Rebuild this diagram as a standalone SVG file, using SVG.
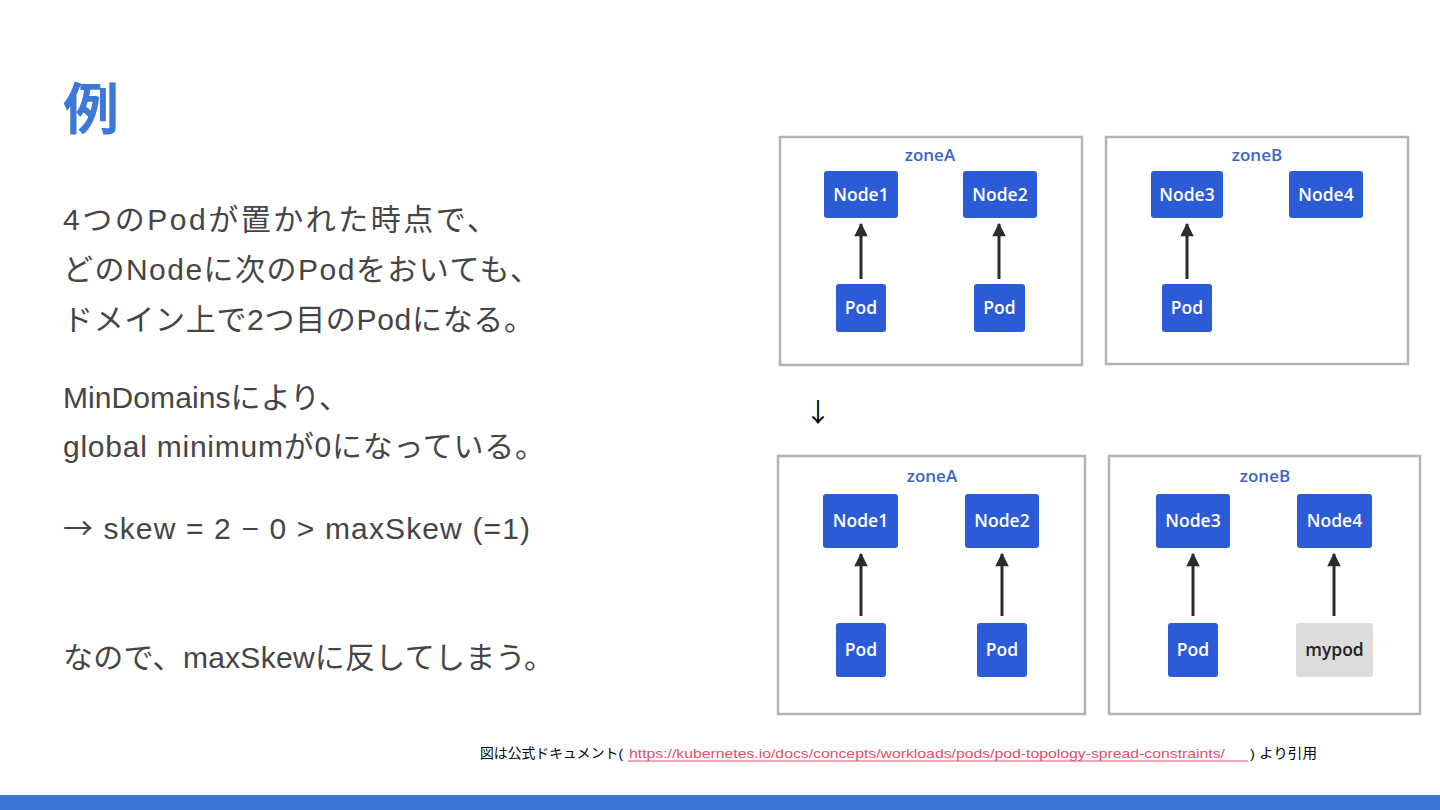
<svg xmlns="http://www.w3.org/2000/svg" width="1440" height="810" viewBox="0 0 1440 810">
<defs>
<marker id="ah" viewBox="0 0 10 10" refX="9" refY="5" markerWidth="5" markerHeight="4.5" orient="auto" markerUnits="strokeWidth">
<path d="M0,0 L10,5 L0,10 Z" fill="#2b2b2b"/>
</marker>
<style>
.body{font-family:"Liberation Sans","Noto Sans CJK JP",sans-serif;font-size:30px;fill:#454545}
.cjk{font-family:"Noto Sans CJK JP",sans-serif}
.zone{fill:#ffffff;stroke:#b3b3b3;stroke-width:2.5}
.zl{font-family:"Open Sans","Noto Sans",sans-serif;font-size:17px;font-weight:600;fill:#3d62c8;text-anchor:middle}
.n{fill:#2c5bd8}
.nt{font-family:"Open Sans","Noto Sans",sans-serif;font-size:17.5px;font-weight:600;fill:#ffffff;text-anchor:middle}
.mp{fill:#dcdcdc}
.mt{font-family:"Open Sans","Noto Sans",sans-serif;font-size:17.5px;font-weight:600;fill:#222222;text-anchor:middle}
.c{stroke:#2b2b2b;stroke-width:3;fill:none;marker-end:url(#ah)}
.cite{font-family:"Liberation Sans","Noto Sans CJK JP",sans-serif;font-size:13.5px;fill:#000000}
.url{fill:#e0506a}
</style>
</defs>
<rect x="0" y="0" width="1440" height="810" fill="#ffffff"/>
<rect x="0" y="795" width="1440" height="15" fill="#3c78d8"/>

<g id="title">
<text x="63" y="129" font-family="Noto Sans CJK JP, sans-serif" font-size="56" font-weight="700" fill="#3c78d8">例</text>
</g>

<g id="body-text">
<text class="body" x="63" y="230" textLength="434" lengthAdjust="spacing">4つのPodが置かれた時点で、</text>
<text class="body" x="63" y="280" textLength="477" lengthAdjust="spacing">どのNodeに次のPodをおいても、</text>
<text class="body" x="63" y="330" textLength="471" lengthAdjust="spacing">ドメイン上で2つ目のPodになる。</text>
<text class="body" x="63" y="408" textLength="286" lengthAdjust="spacing">MinDomainsにより、</text>
<text class="body" x="63" y="457" textLength="482" lengthAdjust="spacing">global minimumが0になっている。</text>
<text class="body" x="63" y="539" textLength="467" lengthAdjust="spacing"><tspan class="cjk">→</tspan> skew = 2 − 0 &gt; maxSkew (=1)</text>
<text class="body" x="63" y="668" textLength="491" lengthAdjust="spacing">なので、maxSkewに反してしまう。</text>
</g>

<g id="top-zoneA">
<rect class="zone" x="780" y="137" width="302" height="228"/>
<text class="zl" x="930" y="161">zoneA</text>
</g>
<g id="top-node1"><rect class="n" x="824" y="171" width="74" height="47" rx="3"/><text class="nt" x="861" y="200.5">Node1</text></g>
<g id="top-node2"><rect class="n" x="963" y="171" width="74" height="47" rx="3"/><text class="nt" x="1000" y="200.5">Node2</text></g>
<g id="top-pod1"><rect class="n" x="836" y="284" width="50" height="48" rx="3"/><text class="nt" x="861" y="314">Pod</text></g>
<g id="top-pod2"><rect class="n" x="974" y="284" width="51" height="48" rx="3"/><text class="nt" x="999.5" y="314">Pod</text></g>

<g id="top-zoneB">
<rect class="zone" x="1106" y="137" width="302" height="227"/>
<text class="zl" x="1257" y="161">zoneB</text>
</g>
<g id="top-node3"><rect class="n" x="1151" y="171" width="72" height="47" rx="3"/><text class="nt" x="1187" y="200.5">Node3</text></g>
<g id="top-node4"><rect class="n" x="1289" y="171" width="74" height="47" rx="3"/><text class="nt" x="1326" y="200.5">Node4</text></g>
<g id="top-pod3"><rect class="n" x="1162" y="284" width="50" height="48" rx="3"/><text class="nt" x="1187" y="314">Pod</text></g>

<g id="down-arrow">
<text x="818" y="422" font-family="Noto Sans CJK JP, sans-serif" font-size="26" fill="#000000" text-anchor="middle">↓</text>
</g>

<g id="bot-zoneA">
<rect class="zone" x="778" y="456" width="307" height="258"/>
<text class="zl" x="932" y="482">zoneA</text>
</g>
<g id="bot-node1"><rect class="n" x="823" y="494" width="75" height="54" rx="3"/><text class="nt" x="860.5" y="527">Node1</text></g>
<g id="bot-node2"><rect class="n" x="965" y="494" width="74" height="54" rx="3"/><text class="nt" x="1002" y="527">Node2</text></g>
<g id="bot-pod1"><rect class="n" x="836" y="623" width="50" height="54" rx="3"/><text class="nt" x="861" y="656">Pod</text></g>
<g id="bot-pod2"><rect class="n" x="977" y="623" width="50" height="54" rx="3"/><text class="nt" x="1002" y="656">Pod</text></g>

<g id="bot-zoneB">
<rect class="zone" x="1109" y="456" width="311" height="258"/>
<text class="zl" x="1265" y="482">zoneB</text>
</g>
<g id="bot-node3"><rect class="n" x="1156" y="494" width="74" height="54" rx="3"/><text class="nt" x="1193" y="527">Node3</text></g>
<g id="bot-node4"><rect class="n" x="1297" y="494" width="75" height="54" rx="3"/><text class="nt" x="1334.5" y="527">Node4</text></g>
<g id="bot-pod3"><rect class="n" x="1168" y="623" width="50" height="54" rx="3"/><text class="nt" x="1193" y="656">Pod</text></g>
<g id="bot-mypod"><rect class="mp" x="1296" y="623" width="77" height="54" rx="3"/><text class="mt" x="1334.5" y="656">mypod</text></g>

<g id="connectors">
<line class="c" x1="861" y1="279" x2="861" y2="224"/>
<line class="c" x1="999" y1="279" x2="999" y2="224"/>
<line class="c" x1="1187" y1="279" x2="1187" y2="224"/>
<line class="c" x1="861" y1="616" x2="861" y2="554"/>
<line class="c" x1="1002" y1="616" x2="1002" y2="554"/>
<line class="c" x1="1193" y1="616" x2="1193" y2="554"/>
<line class="c" x1="1334" y1="616" x2="1334" y2="554"/>
</g>

<g id="citation">
<text class="cite" x="480" y="758" textLength="143" lengthAdjust="spacingAndGlyphs">図は公式ドキュメント(</text>
<text class="cite url" x="629" y="758" textLength="596" lengthAdjust="spacingAndGlyphs">https://kubernetes.io/docs/concepts/workloads/pods/pod-topology-spread-constraints/</text>
<line x1="628" y1="761" x2="1248" y2="761" stroke="#e0506a" stroke-width="1"/>
<text class="cite" x="1250" y="758" textLength="67" lengthAdjust="spacingAndGlyphs">) より引用</text>
</g>
</svg>
